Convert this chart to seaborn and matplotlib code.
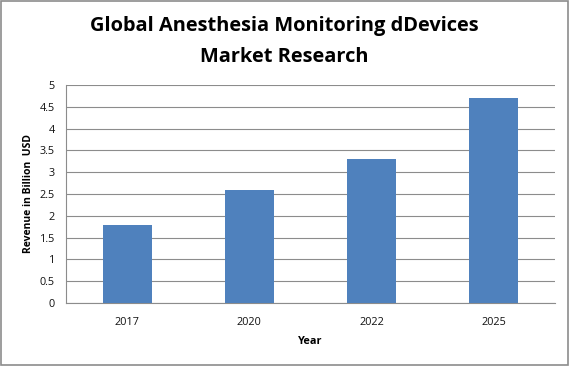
import matplotlib
matplotlib.use("Agg")
import matplotlib.pyplot as plt
import seaborn as sns
import pandas as pd
from matplotlib.patches import Rectangle

years = ["2017", "2020", "2022", "2025"]
revenue = [1.8, 2.6, 3.3, 4.7]
yticks = [0, 0.5, 1, 1.5, 2, 2.5, 3, 3.5, 4, 4.5, 5]
ytick_labels = ["0", "0.5", "1", "1.5", "2", "2.5", "3", "3.5", "4", "4.5", "5"]

df = pd.DataFrame({"Year": years, "Revenue": revenue})

sns.set_theme(style="white")
plt.rcParams["font.family"] = ["Open Sans", "DejaVu Sans"]

fig = plt.figure(figsize=(5.8, 3.66), dpi=100)
ax = fig.add_axes([0.1138, 0.172, 0.843, 0.596])

sns.barplot(data=df, x="Year", y="Revenue", color="#4F81BD", width=0.4,
            saturation=1, ax=ax, zorder=3, edgecolor="none", linewidth=0)

ax.set_ylim(0, 5)
ax.set_xlim(-0.5, 3.5)
ax.set_yticks(yticks)
ax.set_yticklabels(ytick_labels, fontsize=7.8, color="#111111")
ax.yaxis.grid(True, color="#8C8C8C", linewidth=0.8)
ax.set_axisbelow(True)

ax.set_xticks(range(len(years)))
ax.set_xticklabels(years, fontsize=7.8, color="#111111")
ax.set_xticks([-0.5, 0.5, 1.5, 2.5, 3.5], minor=True)
ax.tick_params(axis="x", which="major", length=0, pad=10)
ax.tick_params(axis="x", which="minor", length=4, width=0.8, color="#8C8C8C", direction="out")
ax.tick_params(axis="y", which="major", length=4, width=0.8, color="#8C8C8C", direction="out", pad=4)

for s in ["top", "right"]:
    ax.spines[s].set_visible(False)
for s in ["left", "bottom"]:
    ax.spines[s].set_color("#8C8C8C")
    ax.spines[s].set_linewidth(0.8)

ax.set_xlabel("Year", fontsize=7.8, fontweight="bold", labelpad=6, color="black")
ax.set_ylabel("Revenue in Billion  USD", fontsize=7.5, fontweight="bold", labelpad=4, color="black")

fig.text(0.49, 0.93, "Global Anesthesia Monitoring dDevices", ha="center", va="center",
         fontsize=14.4, fontweight="bold", color="black")
fig.text(0.49, 0.845, "Market Research", ha="center", va="center",
         fontsize=14.4, fontweight="bold", color="black")

fig.patches.append(Rectangle((0.002, 0.003), 0.978, 0.993, transform=fig.transFigure,
                             fill=False, edgecolor="#8C8C8C", linewidth=1.2))

fig.savefig("out.png", dpi=100)
